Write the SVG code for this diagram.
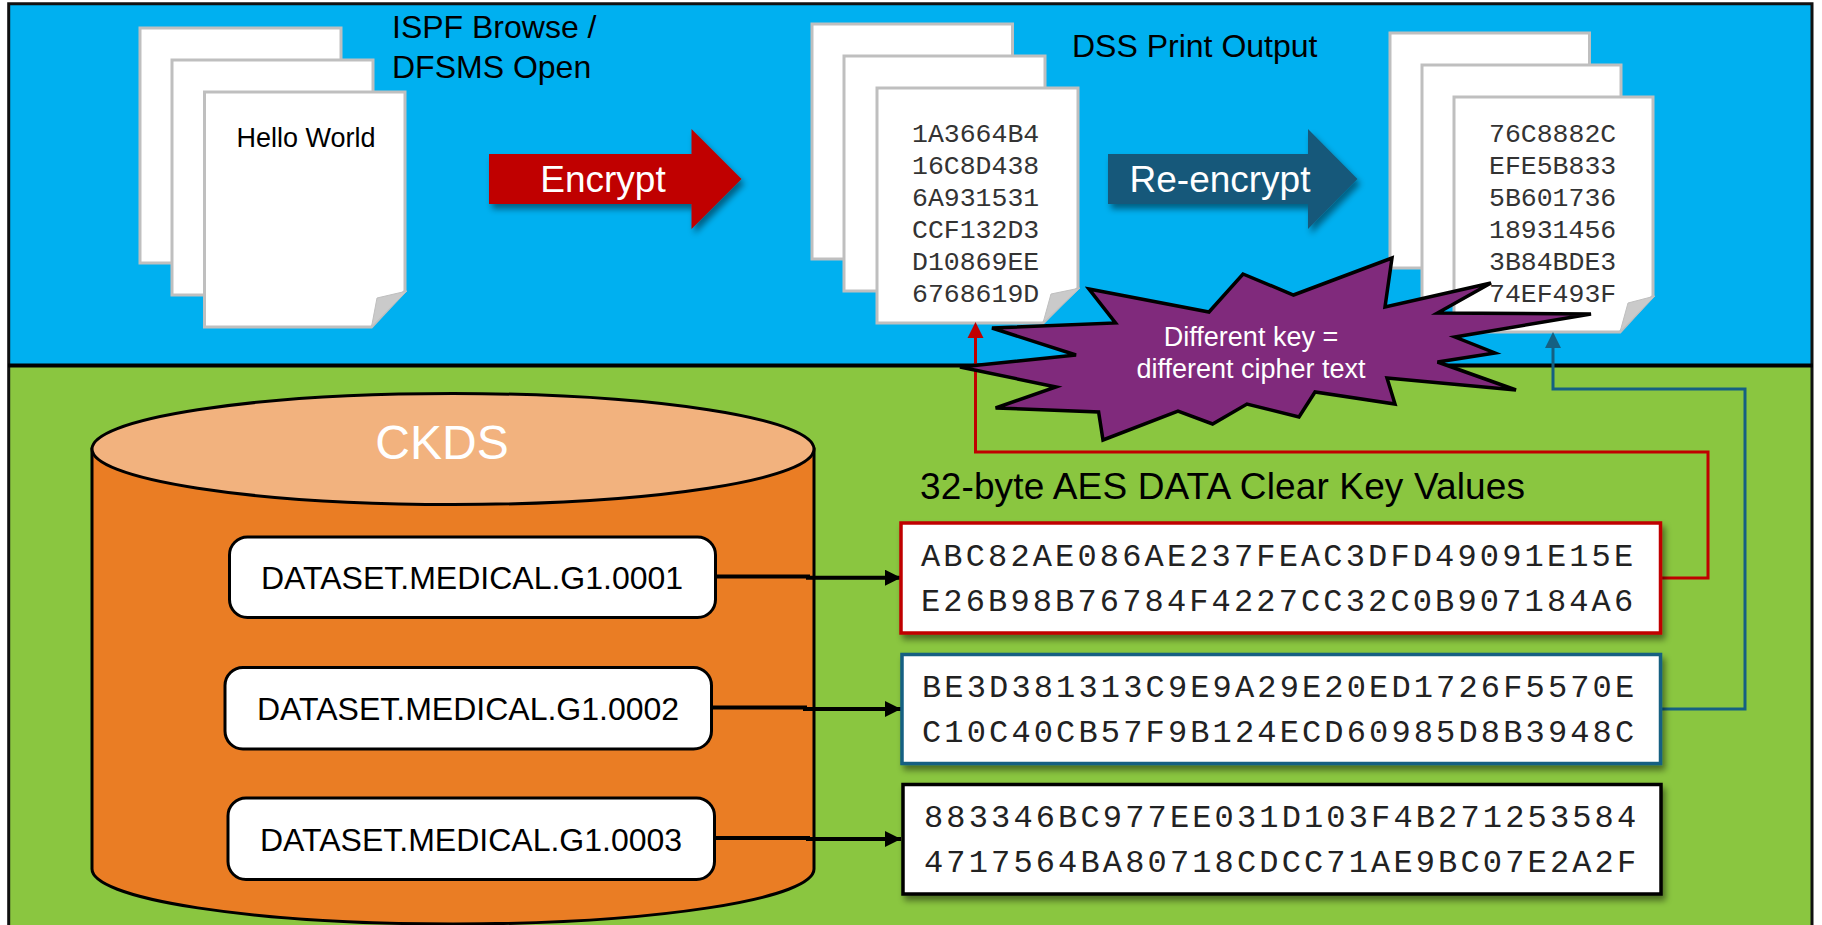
<svg xmlns="http://www.w3.org/2000/svg" width="1822" height="925" viewBox="0 0 1822 925">
<defs>
<filter id="sh" x="-10%" y="-10%" width="125%" height="130%"><feDropShadow dx="3" dy="5" stdDeviation="3" flood-color="#000" flood-opacity="0.45"/></filter>
<marker id="mk" markerUnits="userSpaceOnUse" markerWidth="17" markerHeight="16" refX="16" refY="8" orient="auto"><path d="M0 0L16 8L0 16z" fill="#000"/></marker>
</defs>
<style>
text{font-family:"Liberation Sans",Arial,sans-serif}
.pg{fill:#fff;stroke:#BFBFBF;stroke-width:3}
.fold{fill:#CACACA;stroke:#BFBFBF;stroke-width:1}
.m{font-family:"Liberation Mono","Courier New",monospace;font-size:26.5px;fill:#333}
.k{font-family:"Liberation Mono","Courier New",monospace;font-size:32px;letter-spacing:3.15px;fill:#222}
.ds{font-size:32px;fill:#000}
.rb{fill:#fff;stroke:#000;stroke-width:3}
.key{fill:#fff;stroke-width:3.5;filter:url(#sh)}
.lb{font-size:32px;fill:#000}
.ar{font-size:37px;fill:#fff;text-anchor:middle}
.c{fill:none;stroke-width:3}
.dk{fill:none;stroke:#000;stroke-width:4;marker-end:url(#mk)}
</style>
<rect width="1822" height="925" fill="#fff"/>
<g id="backgrounds">
<rect x="9" y="4" width="1803" height="362" fill="#00B0F0"/>
<rect x="9" y="366" width="1803" height="559" fill="#8AC640"/>
<path d="M8.700 925V3.800H1812V925" fill="none" stroke="#111" stroke-width="3"/>
<path d="M8 365.500H1813" fill="none" stroke="#000" stroke-width="4"/>
</g>
<g id="doc-plain">
<rect class="pg" x="140" y="28" width="201" height="235"/>
<rect class="pg" x="172" y="60" width="201" height="235"/>
<path class="pg" d="M204.500 92H405V291L371.500 327H204.500Z"/>
<path class="fold" d="M407 291L371.500 327L377 298Z"/>
<text x="236.500" y="147" font-size="27">Hello World</text>
</g>
<g id="label-ispf">
<text class="lb" x="392" y="38">ISPF Browse /</text>
<text class="lb" x="392" y="78">DFSMS Open</text>
</g>
<g id="arrow-encrypt">
<path d="M489 154H691.500V129L741.500 179L691.500 229V204H489Z" fill="#C00000" filter="url(#sh)"/>
<text class="ar" x="603" y="192">Encrypt</text>
</g>
<g id="doc-cipher1">
<rect class="pg" x="812" y="24" width="200.500" height="235"/>
<rect class="pg" x="844" y="56" width="201" height="235"/>
<path class="pg" d="M877 88H1078V288L1043 323H877Z"/>
<path class="fold" d="M1080 288L1043 323L1051 294Z"/>
<text class="m"><tspan x="912" y="142">1A3664B4</tspan><tspan x="912" y="174">16C8D438</tspan><tspan x="912" y="206">6A931531</tspan><tspan x="912" y="238">CCF132D3</tspan><tspan x="912" y="270">D10869EE</tspan><tspan x="912" y="302">6768619D</tspan></text>
</g>
<g id="label-dss"><text class="lb" x="1072" y="57">DSS Print Output</text></g>
<g id="arrow-reencrypt">
<path d="M1108 154H1308V129L1357.500 179L1308 229V204H1108Z" fill="#17597A" filter="url(#sh)"/>
<text class="ar" x="1220" y="192">Re-encrypt</text>
</g>
<g id="doc-cipher2">
<rect class="pg" x="1390" y="33" width="199.500" height="235"/>
<rect class="pg" x="1422" y="65" width="199" height="235"/>
<path class="pg" d="M1454 97H1653V296L1620 332H1454Z"/>
<path class="fold" d="M1655 296L1620 332L1628 303Z"/>
<text class="m"><tspan x="1489" y="142">76C8882C</tspan><tspan x="1489" y="174">EFE5B833</tspan><tspan x="1489" y="206">5B601736</tspan><tspan x="1489" y="238">18931456</tspan><tspan x="1489" y="270">3B84BDE3</tspan><tspan x="1489" y="302">74EF493F</tspan></text>
</g>
<g id="connectors">
<path class="c" stroke="#C00000" d="M1660 578H1708V452H975.500V336"/>
<path d="M975.500 322L983.500 338H967.500Z" fill="#C00000"/>
<path class="c" stroke="#156082" d="M1660 709H1745V389H1553V346"/>
<path d="M1553 332L1561 348H1545Z" fill="#156082"/>
</g>
<g id="burst">
<path d="M1089 289L1209 312L1243 274L1293.500 295L1392 258L1385 307L1491 283L1437.500 313L1591 314L1455 337L1495 353L1437.500 362L1516 390L1387 378L1395 404L1315 392L1299 417L1247 404L1212.600 424L1178 411L1103 440L1098.600 412L995.600 408L1056 387L960 367L1076 355L992 328L1115.500 323Z" fill="#802A7C" stroke="#000" stroke-width="3.500"/>
<text x="1251" y="346" font-size="27" fill="#fff" text-anchor="middle">Different key =</text>
<text x="1251" y="378" font-size="27" fill="#fff" text-anchor="middle">different cipher text</text>
</g>
<g id="ckds">
<path d="M92 449V869A361 55 0 0 0 814 869V449Z" fill="#EA7D24" stroke="#000" stroke-width="3"/>
<ellipse cx="453" cy="449" rx="361" ry="55.500" fill="#F2B27E" stroke="#000" stroke-width="3"/>
<text x="442" y="459" font-size="48" fill="#fff" text-anchor="middle">CKDS</text>
</g>
<g id="ds1"><rect class="rb" x="229.500" y="537" width="486" height="80.500" rx="18"/><text class="ds" x="261" y="589">DATASET.MEDICAL.G1.0001</text></g>
<g id="ds2"><rect class="rb" x="225" y="667.500" width="486.500" height="81.500" rx="18"/><text class="ds" x="257" y="720">DATASET.MEDICAL.G1.0002</text></g>
<g id="ds3"><rect class="rb" x="228" y="798" width="486.500" height="81.500" rx="18"/><text class="ds" x="260" y="851">DATASET.MEDICAL.G1.0003</text></g>
<g id="ds-connectors">
<path class="dk" d="M716 576.500H808V577.700H901"/>
<path class="dk" d="M712 707.500H805V709H901"/>
<path class="dk" d="M715 838H808V839H901"/>
</g>
<g id="label-keys"><text x="920" y="499" font-size="37" letter-spacing="0.14" fill="#000">32-byte AES DATA Clear Key Values</text></g>
<g id="key1"><rect class="key" x="901" y="523" width="759.500" height="110" stroke="#C00000"/><text class="k"><tspan x="921" y="566">ABC82AE086AE237FEAC3DFD49091E15E</tspan><tspan x="921" y="611">E26B98B76784F4227CC32C0B907184A6</tspan></text></g>
<g id="key2"><rect class="key" x="902" y="654.500" width="758.500" height="109" stroke="#156082"/><text class="k"><tspan x="922" y="697">BE3D381313C9E9A29E20ED1726F5570E</tspan><tspan x="922" y="742">C10C40CB57F9B124ECD60985D8B3948C</tspan></text></g>
<g id="key3"><rect class="key" x="903" y="784.500" width="758" height="109.500" stroke="#000"/><text class="k"><tspan x="924" y="827">883346BC977EE031D103F4B271253584</tspan><tspan x="924" y="872">4717564BA80718CDCC71AE9BC07E2A2F</tspan></text></g>
</svg>
